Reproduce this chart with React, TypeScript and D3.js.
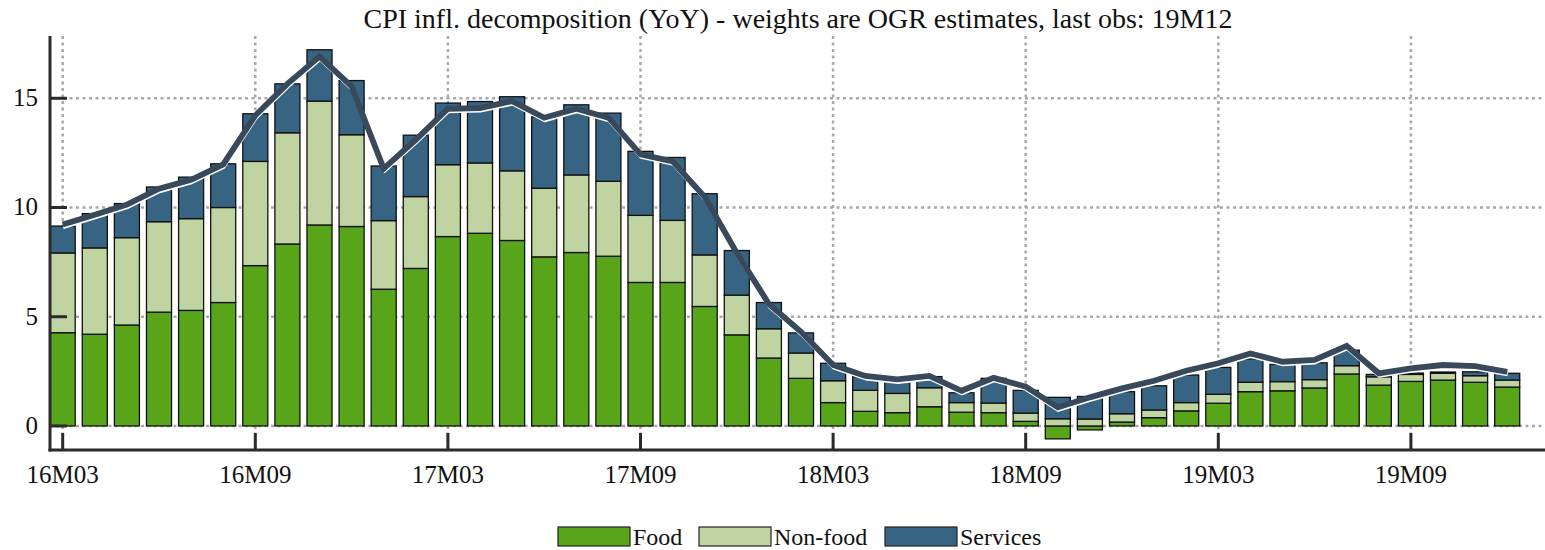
import React from "react";
import * as d3 from "d3";

const months = [
  "16M03","16M04","16M05","16M06","16M07","16M08","16M09","16M10","16M11","16M12",
  "17M01","17M02","17M03","17M04","17M05","17M06","17M07","17M08","17M09","17M10","17M11","17M12",
  "18M01","18M02","18M03","18M04","18M05","18M06","18M07","18M08","18M09","18M10","18M11","18M12",
  "19M01","19M02","19M03","19M04","19M05","19M06","19M07","19M08","19M09","19M10","19M11","19M12",
];

const food = [
  4.27, 4.2, 4.62, 5.21, 5.29, 5.65, 7.34, 8.33, 9.2, 9.13,
  6.26, 7.21, 8.67, 8.82, 8.49, 7.74, 7.94, 7.77, 6.57, 6.57, 5.47, 4.17,
  3.11, 2.18, 1.07, 0.67, 0.61, 0.88, 0.63, 0.61, 0.21, -0.59, -0.18, 0.18,
  0.38, 0.69, 1.04, 1.57, 1.61, 1.74, 2.38, 1.87, 2.04, 2.1, 2.0, 1.78,
];

const nonFood = [
  3.65, 3.95, 4.0, 4.14, 4.2, 4.35, 4.77, 5.09, 5.67, 4.2,
  3.14, 3.29, 3.29, 3.22, 3.19, 3.14, 3.55, 3.43, 3.07, 2.84, 2.36, 1.82,
  1.34, 1.16, 1.0, 0.96, 0.88, 0.87, 0.44, 0.44, 0.38, 0.33, 0.32, 0.38,
  0.35, 0.38, 0.41, 0.43, 0.42, 0.38, 0.38, 0.38, 0.32, 0.31, 0.3, 0.32,
];

const services = [
  1.23, 1.57, 1.56, 1.59, 1.9, 2.0, 2.18, 2.24, 2.35, 2.48,
  2.5, 2.81, 2.82, 2.81, 3.39, 3.27, 3.21, 3.12, 2.93, 2.88, 2.8, 2.04,
  1.2, 0.92, 0.8, 0.63, 0.51, 0.51, 0.45, 1.13, 1.04, 0.98, 1.03, 1.01,
  1.11, 1.26, 1.23, 1.07, 0.79, 0.77, 0.71, 0.11, 0.06, 0.06, 0.18, 0.31,
];

const headline = [
  9.22, 9.67, 10.13, 10.86, 11.27, 11.97, 14.21, 15.66, 16.91, 15.54,
  11.78, 13.1, 14.52, 14.55, 14.87, 14.11, 14.52, 14.11, 12.43, 12.11, 10.48, 7.92,
  5.58, 4.31, 2.79, 2.29, 2.13, 2.29, 1.61, 2.2, 1.8, 0.85, 1.31, 1.72,
  2.07, 2.53, 2.87, 3.32, 2.94, 3.02, 3.67, 2.41, 2.64, 2.79, 2.74, 2.48,
];

const seriesNames = ["Food", "Non-food", "Services"];
const seriesColors = ["#58a51a", "#bfd4a0", "#366482"];
const xTickLabels = ["16M03", "16M09", "17M03", "17M09", "18M03", "18M09", "19M03", "19M09"];
const yTickValues = [0, 5, 10, 15];
const title = "CPI infl. decomposition (YoY) - weights are OGR estimates, last obs: 19M12";

const W = 1545;
const H = 550;
const FONT = "'Liberation Serif', 'Times New Roman', Times, serif";

export default function App() {
  const axisLeft = 50;
  const axisBottom = 450;
  const plotTop = 36;
  const step = 32.1;
  const x0 = 62.7 - step / 2;

  const x = d3
    .scaleBand<string>()
    .domain(months)
    .range([x0, x0 + step * months.length])
    .paddingInner(0.22)
    .paddingOuter(0.11);
  const cx = (m: string) => (x(m) as number) + x.bandwidth() / 2;

  const y = d3.scaleLinear().domain([-1.1, 17.85]).range([axisBottom, plotTop]);

  const rows = months.map((m, i) => ({
    month: m,
    Food: food[i],
    "Non-food": nonFood[i],
    Services: services[i],
  }));
  const stacked = d3
    .stack<any>()
    .keys(seriesNames)
    .offset(d3.stackOffsetDiverging)(rows);

  const line = d3
    .line<number>()
    .x((_, i) => cx(months[i]))
    .y((d) => y(d));
  const linePath = line(headline) || "";

  const gridColor = "#a9a9a9";
  const axisColor = "#2b2b2b";

  const legendItems = [
    { name: "Food", boxX: 558, textX: 633 },
    { name: "Non-food", boxX: 699, textX: 774 },
    { name: "Services", boxX: 885, textX: 960 },
  ];

  return (
    <svg
      width={W}
      height={H}
      style={{ position: "absolute", left: 0, top: 0, background: "#fff", fontFamily: FONT }}
    >
      <rect x={0} y={0} width={W} height={H} fill="#fff" />
      <text x={798} y={28} textAnchor="middle" fontSize={28} fill="#111">
        {title}
      </text>

      {/* grid */}
      {yTickValues.map((v) => (
        <line
          key={"gy" + v}
          x1={axisLeft}
          x2={W}
          y1={y(v)}
          y2={y(v)}
          stroke={gridColor}
          strokeWidth={2.5}
          strokeDasharray="3 3.5"
        />
      ))}
      {xTickLabels.map((m) => (
        <line
          key={"gx" + m}
          x1={cx(m)}
          x2={cx(m)}
          y1={plotTop}
          y2={axisBottom}
          stroke={gridColor}
          strokeWidth={2.5}
          strokeDasharray="3 3.5"
        />
      ))}

      {/* bars */}
      {stacked.map((s, si) => (
        <g key={s.key} fill={seriesColors[si]}>
          {s.map((d, i) => {
            const y0 = y(d[0]);
            const y1 = y(d[1]);
            const top = Math.min(y0, y1);
            const h = Math.abs(y0 - y1);
            if (h < 0.01) return null;
            return (
              <rect
                key={i}
                x={x(months[i]) as number}
                y={top}
                width={x.bandwidth()}
                height={h}
                stroke="#111"
                strokeWidth={1.3}
              />
            );
          })}
        </g>
      ))}

      {/* headline line */}
      <path
        d={linePath}
        fill="none"
        stroke="#ffffff"
        strokeWidth={3.2}
        strokeLinejoin="round"
        transform="translate(0.5,2.9)"
      />
      <path d={linePath} fill="none" stroke="#37495a" strokeWidth={5.8} strokeLinejoin="miter" />

      {/* axes */}
      <line x1={axisLeft} x2={axisLeft} y1={plotTop} y2={axisBottom + 1.5} stroke={axisColor} strokeWidth={3} />
      <line x1={axisLeft - 1.5} x2={W} y1={axisBottom} y2={axisBottom} stroke={axisColor} strokeWidth={3} />
      {yTickValues.map((v) => (
        <g key={"ty" + v}>
          <line x1={axisLeft} x2={axisLeft + 17} y1={y(v)} y2={y(v)} stroke={axisColor} strokeWidth={3} />
          <text x={38} y={y(v) + 8} textAnchor="end" fontSize={25} fill="#111">
            {v}
          </text>
        </g>
      ))}
      {xTickLabels.map((m) => (
        <g key={"tx" + m}>
          <line x1={cx(m)} x2={cx(m)} y1={axisBottom} y2={axisBottom - 17} stroke={axisColor} strokeWidth={3} />
          <text x={cx(m)} y={483} textAnchor="middle" fontSize={25} fill="#111">
            {m}
          </text>
        </g>
      ))}

      {/* legend */}
      {legendItems.map((it, i) => (
        <g key={it.name}>
          <rect x={it.boxX} y={527} width={72} height={19} fill={seriesColors[i]} stroke="#222" strokeWidth={1.2} />
          <text x={it.textX} y={545} fontSize={24} fill="#111">
            {seriesNames[i]}
          </text>
        </g>
      ))}
    </svg>
  );
}
